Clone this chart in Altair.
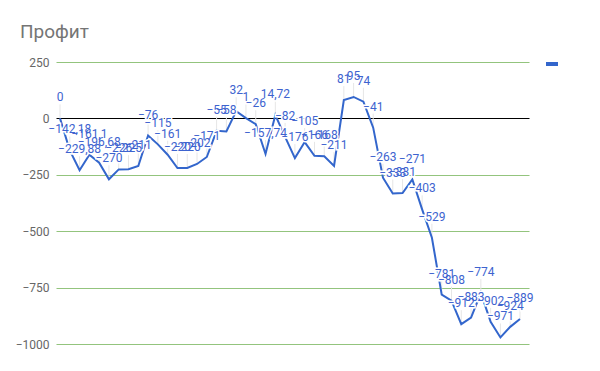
import altair as alt
import pandas as pd

# values (one per point, left to right)
values = [0, -142.18, -229.88, -161.1, -196.68, -270, -226, -225, -211, -76,
          -115, -161, -220, -220, -202, -171, -55, -58, 32, 1,
          -26, -157.74, 14.72, -82, -176, -105, -166, -168, -211, 81,
          95, 74, -41, -263, -333, -331, -271, -403, -529, -781,
          -808, -912, -883, -774, -902, -971, -924, -889]
series_name = [""]
y_ticks = [-1000, -750, -500, -250, 0, 250]

df = pd.DataFrame({"i": list(range(len(values))), "v": values, "s": series_name * len(values)})

BLUE = "#3366cc"
LBL = "#3d63cf"
GRID = "#93c47d"

x_enc = alt.X("i:Q", scale=alt.Scale(domain=[-0.41, 47.92], nice=False, zero=False), axis=None)
y_enc = alt.Y("v:Q", scale=alt.Scale(domain=[-1000, 250], nice=False, zero=False),
              axis=alt.Axis(values=y_ticks, title=None, grid=True, format="d",
                            gridColor={"condition": {"test": "datum.value === 0", "value": "#000000"},
                                       "value": GRID},
                            gridWidth=1,
                            domain=False, ticks=False, labelPadding=7, labelFont="Roboto",
                            labelFontSize=12, labelColor="#666666"))

base = alt.Chart(df)

stems = base.mark_rule(color="#e6e6e6", strokeWidth=1, y2Offset=-14).encode(
    x=x_enc, y=y_enc, y2="v:Q")

line = base.mark_line(strokeWidth=2, interpolate="linear").encode(
    x=x_enc, y=y_enc,
    color=alt.Color("s:N", scale=alt.Scale(range=[BLUE]),
                    legend=alt.Legend(title=None, orient="none", legendX=488, legendY=-6,
                                      symbolType="stroke", symbolSize=144, symbolStrokeWidth=4,
                                      labelFontSize=1, padding=0)))

lab = "replace(format(datum.v, '.2~f'), '.', ',')"
halo = base.transform_calculate(lbl=lab).mark_text(
    font="Roboto", fontSize=12, dy=-21, baseline="middle", align="center",
    stroke="white", strokeWidth=3, fill="white").encode(x=x_enc, y=y_enc, text="lbl:N")
text = base.transform_calculate(lbl=lab).mark_text(
    font="Roboto", fontSize=12, dy=-21, baseline="middle", align="center",
    color=LBL).encode(x=x_enc, y=y_enc, text="lbl:N")

chart = alt.layer(stems, line, halo, text).properties(
    width=473, height=282,
    background="white",
    title=alt.TitleParams("Профит", anchor="start", frame="group", dx=-36, offset=14,
                          fontSize=19, font="Roboto", fontWeight="normal", color="#757575"),
    autosize=alt.AutoSizeParams(type="none"),
    padding={"left": 56, "top": 62, "right": 71, "bottom": 27},
).configure_view(stroke=None)

chart.save("out.html", embed_options={"renderer": "svg", "actions": False})
